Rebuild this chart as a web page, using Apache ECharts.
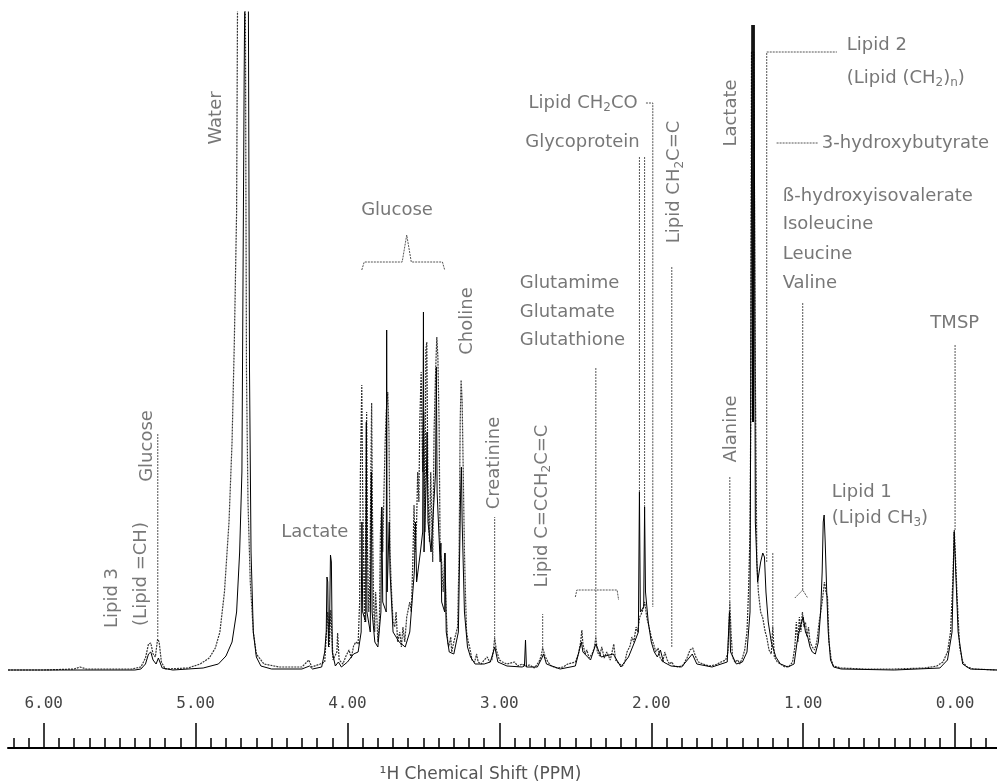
<!DOCTYPE html>
<html>
<head>
<meta charset="utf-8">
<script src="https://cdn.jsdelivr.net/npm/echarts@6/dist/echarts.min.js"></script>
<style>
  html, body { margin: 0; padding: 0; background: #fff; }
  #chart { width: 997px; height: 784px; }
</style>
</head>
<body>
<div id="chart"></div>
<script>
// x = chemical shift (ppm), y = intensity (arbitrary units, baseline = 0)
const majorTicks = [0, 1, 2, 3, 4, 5, 6];

// black (solid) trace
const solidTrace = [
  [6.235,2],[5.40,2],[5.36,3],[5.33,8],[5.31,18],[5.295,20],[5.28,12],[5.26,8],[5.245,14],[5.235,12],[5.22,4],[5.15,2],
  [4.95,4],[4.85,8],[4.80,16],[4.76,30],[4.73,60],[4.71,120],[4.695,200],[4.68,600],[4.67,800],[4.655,800],[4.645,300],
  [4.635,120],[4.62,40],[4.60,15],[4.57,6],[4.50,3],[4.30,3],[4.25,6],[4.23,3],[4.17,5],[4.15,20],[4.14,40],[4.135,95],
  [4.13,90],[4.125,25],[4.118,50],[4.112,117],[4.106,110],[4.10,20],[4.08,6],[4.06,10],[4.04,5],[4.0,10],[3.96,18],[3.93,20],
  [3.91,40],[3.905,150],[3.90,60],[3.88,50],[3.876,250],[3.872,60],[3.85,40],[3.843,200],[3.838,60],[3.82,30],[3.80,25],
  [3.78,60],[3.774,165],[3.768,70],[3.745,60],[3.742,342],[3.739,80],[3.725,150],[3.72,100],[3.70,40],[3.66,30],[3.62,25],
  [3.59,40],[3.56,100],[3.552,150],[3.545,90],[3.52,120],[3.505,140],[3.50,360],[3.496,120],[3.48,200],[3.476,240],[3.47,150],
  [3.45,120],[3.42,200],[3.415,305],[3.41,180],[3.39,110],[3.385,129],[3.38,70],[3.36,60],[3.358,119],[3.35,40],[3.33,20],
  [3.30,18],[3.27,40],[3.255,180],[3.25,205],[3.245,150],[3.23,60],[3.21,25],[3.19,15],[3.16,8],[3.10,8],[3.06,10],[3.03,25],
  [3.01,10],[2.95,6],[2.85,5],[2.835,6],[2.828,32],[2.822,5],[2.75,5],[2.72,14],[2.71,18],[2.69,8],[2.60,3],[2.50,6],[2.46,30],
  [2.45,20],[2.40,12],[2.365,28],[2.33,15],[2.25,18],[2.20,5],[2.15,15],[2.11,30],[2.085,40],[2.078,180],[2.072,60],[2.05,65],
  [2.044,165],[2.038,80],[2.02,50],[2.00,30],[1.98,20],[1.96,15],[1.94,22],[1.92,10],[1.87,6],[1.80,5],[1.73,18],[1.70,8],
  [1.60,5],[1.50,10],[1.485,60],[1.478,20],[1.44,8],[1.40,10],[1.37,20],[1.35,60],[1.337,647],[1.333,250],[1.33,647],
  [1.327,250],[1.323,647],[1.315,150],[1.30,90],
  [1.29,100],[1.28,110],[1.266,119],[1.255,115],[1.245,80],[1.23,50],[1.21,30],[1.20,25],[1.18,15],[1.15,8],[1.10,5],[1.06,8],
  [1.04,30],[1.02,45],[1.00,55],[0.985,40],[0.97,35],[0.955,25],[0.94,20],[0.92,18],[0.90,30],[0.885,60],[0.875,100],[0.868,150],
  [0.862,157],[0.855,130],[0.845,80],[0.835,40],[0.82,12],[0.80,5],[0.75,3],[0.40,2],[0.10,4],[0.05,12],[0.02,40],[0.006,140],
  [-0.006,140],[-0.02,40],[-0.05,8],[-0.1,3],[-0.275,2]
];

// grey (dithered) trace
const greyTrace = [
  [6.235,2],[6.0,2],[5.80,3],[5.76,5],[5.72,3],[5.42,3],[5.36,5],[5.33,14],[5.31,28],[5.295,29],[5.28,18],[5.265,15],[5.25,33],
  [5.24,30],[5.225,10],[5.20,3],[5.05,4],[4.97,8],[4.91,14],[4.87,24],[4.84,40],[4.81,80],[4.78,150],[4.76,230],[4.745,330],
  [4.73,460],[4.72,800],[4.675,800],[4.665,300],[4.655,170],[4.64,90],[4.62,40],[4.60,18],[4.55,8],[4.45,5],[4.30,5],[4.255,12],
  [4.235,5],[4.18,8],[4.15,10],[4.13,60],[4.12,25],[4.11,62],[4.095,12],[4.07,20],[4.065,39],[4.055,12],[4.03,8],[4.01,16],
  [3.99,22],[3.975,14],[3.96,26],[3.945,30],[3.93,28],[3.92,70],[3.915,200],[3.906,287],[3.90,180],[3.893,100],[3.887,50],
  [3.88,150],[3.874,260],[3.868,120],[3.86,60],[3.853,90],[3.846,200],[3.841,269],[3.835,150],[3.828,70],[3.821,40],[3.815,80],
  [3.808,60],[3.80,30],[3.79,50],[3.783,140],[3.775,165],[3.768,120],[3.76,180],[3.752,230],[3.745,260],[3.735,280],[3.727,240],
  [3.72,120],[3.71,80],[3.70,50],[3.689,45],[3.68,60],[3.67,30],[3.656,40],[3.645,25],[3.635,45],[3.623,30],[3.61,55],[3.59,70],
  [3.58,60],[3.57,110],[3.562,167],[3.555,120],[3.545,150],[3.538,200],[3.53,170],[3.524,250],[3.515,300],[3.505,200],[3.498,260],
  [3.49,140],[3.484,322],[3.478,330],[3.47,180],[3.46,130],[3.452,200],[3.445,150],[3.439,110],[3.43,240],[3.42,300],[3.412,335],
  [3.405,315],[3.397,250],[3.39,120],[3.38,110],[3.37,80],[3.36,119],[3.35,60],[3.34,30],[3.334,25],[3.32,35],[3.314,20],[3.30,30],
  [3.288,32],[3.275,45],[3.265,120],[3.258,250],[3.252,292],[3.245,270],[3.238,200],[3.23,120],[3.222,70],[3.216,40],[3.205,30],
  [3.196,25],[3.18,12],[3.163,10],[3.15,18],[3.14,10],[3.12,8],[3.10,12],[3.08,15],[3.064,10],[3.05,12],[3.04,20],[3.031,34],
  [3.02,22],[3.00,12],[2.98,10],[2.95,8],[2.90,10],[2.88,6],[2.85,8],[2.83,6],[2.80,7],[2.77,4],[2.74,10],[2.725,16],[2.715,24],
  [2.70,16],[2.68,10],[2.66,6],[2.62,4],[2.58,5],[2.55,8],[2.50,10],[2.48,18],[2.465,30],[2.457,42],[2.45,28],[2.435,18],
  [2.424,22],[2.41,14],[2.39,18],[2.375,24],[2.365,35],[2.355,20],[2.34,16],[2.326,25],[2.31,14],[2.293,20],[2.27,12],[2.255,22],
  [2.247,28],[2.235,12],[2.21,8],[2.19,6],[2.174,10],[2.16,20],[2.14,26],[2.128,35],[2.115,30],[2.10,45],[2.09,40],[2.076,55],
  [2.06,60],[2.043,70],[2.03,55],[2.015,45],[2.00,35],[1.985,28],[1.97,20],[1.955,24],[1.944,15],[1.925,10],[1.911,20],
  [1.895,12],[1.88,8],[1.865,10],[1.85,6],[1.82,5],[1.79,7],[1.765,14],[1.745,22],[1.727,24],[1.71,16],[1.69,10],[1.66,8],
  [1.62,6],[1.58,7],[1.54,10],[1.51,12],[1.495,20],[1.483,70],[1.475,40],[1.465,15],[1.45,10],[1.43,12],[1.418,8],[1.40,14],
  [1.385,22],[1.37,40],[1.36,80],[1.35,140],[1.345,260],[1.34,620],[1.325,620],[1.315,300],[1.305,110],[1.295,80],[1.28,60],
  [1.266,54],[1.25,40],[1.24,35],[1.225,22],[1.21,18],[1.20,45],[1.19,15],[1.17,10],[1.15,8],[1.12,5],[1.09,6],[1.07,10],
  [1.055,25],[1.045,50],[1.035,30],[1.025,55],[1.015,40],[1.005,60],[0.995,45],[0.985,50],[0.975,35],[0.965,45],[0.955,30],
  [0.94,25],[0.925,22],[0.91,30],[0.895,50],[0.885,60],[0.875,70],[0.86,90],[0.85,80],[0.84,75],[0.83,30],[0.815,12],[0.80,6],
  [0.75,4],[0.60,3],[0.40,3],[0.20,4],[0.12,6],[0.08,10],[0.05,20],[0.03,40],[0.015,90],[0.005,142],[-0.005,142],[-0.015,70],
  [-0.03,25],[-0.05,10],[-0.08,5],[-0.12,3],[-0.275,2]
];

// leader lines and brackets of the annotations
const leaders = [
  [[5.249,35],[5.249,239]],
  [[3.906,402],[3.89,410],[3.64,410],[3.61,437],[3.58,410],[3.375,410],[3.36,402]],
  [[3.031,34],[3.031,155]],
  [[2.715,24],[2.715,58]],
  [[2.50,75],[2.49,82],[2.225,82],[2.215,72]],
  [[2.365,35],[2.365,305]],
  [[2.078,180],[2.078,515]],
  [[2.044,165],[2.044,515]],
  [[2.035,569],[1.99,569],[1.99,65]],
  [[1.865,25],[1.865,405]],
  [[1.483,70],[1.483,195]],
  [[1.24,110],[1.24,620],[0.778,620]],
  [[1.175,529],[0.905,529]],
  [[1.20,45],[1.20,120]],
  [[1.055,74],[1.003,82],[0.97,74]],
  [[1.003,82],[1.003,370]],
  [[0.0,142],[0.0,327]]
];

// annotation texts: [text, ppm, intensity, rotate, align]
const labels = [
  ['Water', 4.865, 554, 90, 'center'],
  ['Glucose', 3.674, 462, 0, 'center'],
  ['Lipid 3', 5.545, 74, 90, 'center'],
  ['(Lipid =CH)', 5.354, 98, 90, 'center'],
  ['Glucose', 5.321, 226, 90, 'center'],
  ['Lactate', 4.215, 140, 0, 'center'],
  ['Choline', 3.209, 351, 90, 'center'],
  ['Creatinine', 3.031, 209, 90, 'center'],
  ['Lipid C=CCH{s|2}C=C', 2.72, 166, 90, 'center'],
  ['Glutamime', 2.866, 389, 0, 'left'],
  ['Glutamate', 2.866, 360, 0, 'left'],
  ['Glutathione', 2.866, 332, 0, 'left'],
  ['Lipid CH{s|2}CO', 2.09, 569, 0, 'right'],
  ['Glycoprotein', 2.076, 530, 0, 'right'],
  ['Lipid CH{s|2}C=C', 1.845, 490, 90, 'center'],
  ['Lactate', 1.47, 559, 90, 'center'],
  ['Lipid 2', 0.713, 627, 0, 'left'],
  ['(Lipid (CH{s|2}){s|n})', 0.713, 594, 0, 'left'],
  ['3-hydroxybutyrate', 0.877, 529, 0, 'left'],
  ['ß-hydroxyisovalerate', 1.135, 476, 0, 'left'],
  ['Isoleucine', 1.135, 448, 0, 'left'],
  ['Leucine', 1.135, 418, 0, 'left'],
  ['Valine', 1.135, 389, 0, 'left'],
  ['Alanine', 1.47, 243, 90, 'center'],
  ['Lipid 1', 0.812, 180, 0, 'left'],
  ['(Lipid CH{s|3})', 0.812, 154, 0, 'left'],
  ['TMSP', 0.002, 349, 0, 'center']
];

const minorTicks = [];
for (let i = -2; i <= 62; i++) minorTicks.push(i / 10);

const chart = echarts.init(document.getElementById('chart'));
const textFont = 'DejaVu Sans';

const baseX = {
  type: 'value',
  min: -0.276,
  max: 6.235,
  inverse: true,
  position: 'bottom',
  offset: 0,
  splitLine: { show: false }
};

const option = {
  animation: false,
  backgroundColor: '#fff',
  grid: { left: 8, right: 0, top: 12, bottom: 36, outerBoundsMode: 'none', containLabel: false },
  xAxis: [
    Object.assign({}, baseX, {
      axisLine: { show: true, onZero: false, lineStyle: { color: '#000', width: 2 } },
      axisTick: { show: true, inside: true, length: 25, customValues: majorTicks,
        lineStyle: { color: '#000', width: 1.5 } },
      axisLabel: { show: true, inside: true, margin: 36, customValues: majorTicks,
        formatter: v => v.toFixed(2), fontFamily: 'DejaVu Sans Mono', fontSize: 16, color: '#444' },
      name: '¹H Chemical Shift (PPM)',
      nameLocation: 'middle',
      nameGap: 18,
      nameTextStyle: { fontFamily: textFont, fontSize: 17, color: '#555', padding: [0, 44, 0, 0] }
    }),
    Object.assign({}, baseX, {
      axisLine: { show: false, onZero: false },
      axisTick: { show: true, inside: true, length: 10, customValues: minorTicks,
        lineStyle: { color: '#000', width: 1.5 } },
      axisLabel: { show: false }
    })
  ],
  yAxis: { type: 'value', min: -76, max: 660, show: false },
  series: [
    {
      name: 'grey', type: 'line', data: greyTrace, showSymbol: false, symbol: 'none',
      lineStyle: { color: '#333', width: 1.2, type: [2, 1] }, clip: true, z: 2
    },
    {
      name: 'solid', type: 'line', data: solidTrace, showSymbol: false, symbol: 'none',
      lineStyle: { color: '#000', width: 1 }, clip: true, z: 3
    },
    {
      name: 'leaders', type: 'lines', coordinateSystem: 'cartesian2d', polyline: true, silent: true,
      data: leaders.map(c => ({ coords: c })),
      lineStyle: { color: '#555', width: 1, type: [2, 1], opacity: 1 }, z: 4
    },
    {
      name: 'labels', type: 'scatter', silent: true, symbolSize: 1,
      itemStyle: { color: 'transparent' },
      data: labels.map(l => ({
        name: l[0], value: [l[1], l[2]],
        label: { rotate: l[3], align: l[4] }
      })),
      label: {
        show: true, position: 'inside', verticalAlign: 'middle',
        formatter: p => p.name,
        fontFamily: textFont, fontSize: 18, color: '#555',
        rich: { s: { fontFamily: textFont, fontSize: 12, color: '#555', verticalAlign: 'bottom', padding: [10, 0, 0, 0] } }
      },
      z: 5
    }
  ]
};

chart.setOption(option);
</script>
</body>
</html>
